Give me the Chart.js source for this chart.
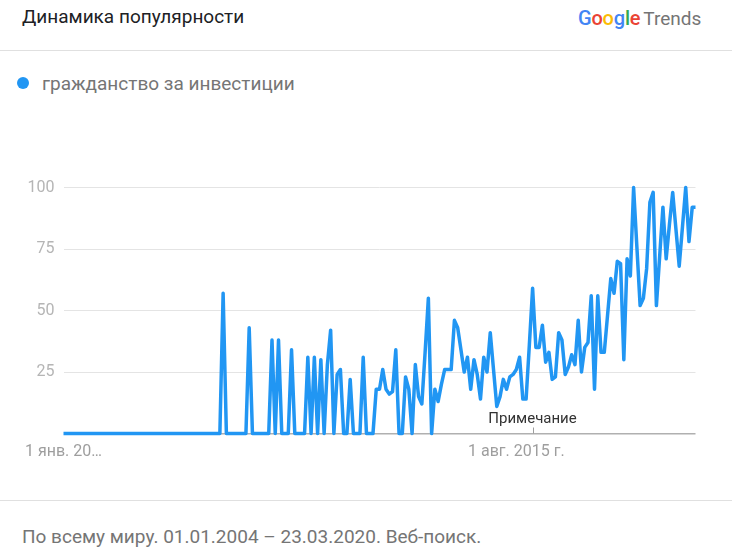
<!DOCTYPE html>
<html>
<head>
<meta charset="utf-8">
<script src="https://cdn.jsdelivr.net/npm/chart.js@4.4.0/dist/chart.umd.min.js"></script>
<style>
  html, body { margin: 0; padding: 0; background: #fff; }
  body { width: 732px; height: 557px; position: relative; overflow: hidden; font-family: Roboto, "Noto Sans", Arial, sans-serif; }
  .abs { position: absolute; white-space: nowrap; }
  #title { left: 22px; top: 7px; font-size: 19px; line-height: 20px; color: #202124; }
  #logo { left: 578px; top: 7px; font-size: 20px; line-height: 22px; }
  #logo .g { font-weight: 500; letter-spacing: -0.2px; }
  #logo .t { color: #757575; font-size: 19px; margin-left: 3px; }
  .hr { position: absolute; left: 0; width: 732px; height: 1px; background: #e0e0e0; }
  #legend { left: 17px; top: 74px; font-size: 19px; line-height: 20px; color: #757575; }
  #legend .dot { display: inline-block; width: 12px; height: 12px; border-radius: 50%; background: #2196F3; vertical-align: middle; margin-right: 13px; position: relative; top: -2px; }
  #footer { left: 22px; top: 527px; font-size: 19px; line-height: 20px; color: #757575; }
  #chart { position: absolute; left: 0; top: 0; }
</style>
</head>
<body>
<div id="title" class="abs">Динамика популярности</div>
<div id="logo" class="abs"><span class="g"><span style="color:#4285F4">G</span><span style="color:#EA4335">o</span><span style="color:#FBBC05">o</span><span style="color:#4285F4">g</span><span style="color:#34A853">l</span><span style="color:#EA4335">e</span></span><span class="t">Trends</span></div>
<div class="hr" style="top:50px"></div>
<div id="legend" class="abs"><span class="dot"></span>гражданство за инвестиции</div>
<div class="hr" style="top:500px"></div>
<div id="footer" class="abs">По всему миру. 01.01.2004 – 23.03.2020. Веб-поиск.</div>
<canvas id="chart" width="732" height="557"></canvas>
<script>
// Series name
const seriesName = 'гражданство за инвестиции';

// Categories: monthly points from 2004-01 to 2020-03
const startYear = 2004, endYear = 2020, endMonth = 3;
const categories = [];
for (let y = startYear; y <= endYear; y++) {
  for (let m = 1; m <= 12; m++) {
    if (y === endYear && m > endMonth) break;
    categories.push(y + '-' + String(m).padStart(2, '0'));
  }
}

// Values (0..100), one per month
const values = [
  // 2004
  0,0,0,0,0,0,0,0,0,0,0,0,
  // 2005
  0,0,0,0,0,0,0,0,0,0,0,0,
  // 2006
  0,0,0,0,0,0,0,0,0,0,0,0,
  // 2007
  0,0,0,0,0,0,0,0,0,0,0,0,
  // 2008
  0,57,0,0,0,0,0,0,0,43,0,0,
  // 2009
  0,0,0,0,38,0,38,0,0,0,34,0,
  // 2010
  0,0,0,31,0,31,0,30,0,28,42,0,
  // 2011
  24,26,0,0,22,0,0,0,31,0,0,0,
  // 2012
  18,18,26,18,16,17,34,0,0,23,18,0,
  // 2013
  28,15,12,33,55,0,18,13,20,26,26,26,
  // 2014
  46,43,34,25,31,18,30,24,14,31,25,41,
  // 2015
  26,11,15,22,18,23,24,26,31,14,14,36,
  // 2016
  59,35,35,44,29,33,22,23,41,38,24,27,
  // 2017
  32,28,46,25,35,37,56,18,56,33,33,48,
  // 2018
  63,57,70,69,30,71,64,100,76,52,55,67,
  // 2019
  94,98,52,72,92,71,85,98,83,68,84,100,
  // 2020
  78,92,92
];

// Axis ticks
const yTicks = [0, 25, 50, 75, 100];
const xTickIndices = [0, 139];
const xTickTexts = ['1 янв. 20…', '1 авг. 2015 г.'];
const noteIndex = 144;
const noteText = 'Примечание';

const FONT = 'Roboto, "Noto Sans", Arial, sans-serif';

const notePlugin = {
  id: 'note',
  afterDatasetsDraw(chart) {
    const ctx = chart.ctx;
    const xs = chart.scales.x;
    const area = chart.chartArea;
    const x = Math.round(xs.getPixelForValue(noteIndex)) + 0.5;
    ctx.save();
    ctx.strokeStyle = '#9e9e9e';
    ctx.lineWidth = 1;
    ctx.beginPath();
    ctx.moveTo(x, area.bottom - 6);
    ctx.lineTo(x, area.bottom);
    ctx.stroke();
    ctx.fillStyle = '#333333';
    ctx.font = '15px ' + FONT;
    ctx.textAlign = 'center';
    ctx.textBaseline = 'middle';
    ctx.fillText(noteText, x - 1, area.bottom - 14);
    ctx.restore();
  }
};

new Chart(document.getElementById('chart'), {
  type: 'line',
  data: {
    labels: categories,
    datasets: [{
      label: seriesName,
      data: values,
      borderColor: '#2196F3',
      backgroundColor: '#2196F3',
      borderWidth: 3.5,
      pointRadius: 0,
      pointHoverRadius: 0,
      tension: 0,
      borderJoinStyle: 'round',
      clip: false
    }]
  },
  options: {
    responsive: false,
    animation: false,
    events: [],
    layout: { padding: { top: 187.5, right: 36.5, left: 0, bottom: 0 } },
    plugins: { legend: { display: false }, tooltip: { enabled: false } },
    scales: {
      x: {
        type: 'category',
        offset: false,
        grid: { display: false, drawTicks: false },
        border: { display: false },
        afterFit: (s) => { s.height = 557 - 433.5; },
        ticks: {
          autoSkip: false,
          maxRotation: 0,
          minRotation: 0,
          padding: 9,
          color: '#9e9e9e',
          font: { family: FONT, size: 16 },
          callback: function (val, idx) {
            const k = xTickIndices.indexOf(idx);
            return k >= 0 ? xTickTexts[k] : null;
          }
        }
      },
      y: {
        min: 0,
        max: 100,
        afterFit: (s) => { s.width = 63.5; },
        afterBuildTicks: (s) => { s.ticks = yTicks.map(v => ({ value: v })); },
        border: { display: false },
        grid: {
          drawTicks: false,
          color: (c) => c.tick && c.tick.value === 0 ? '#b0b0b0' : '#e4e4e4',
          lineWidth: (c) => c.tick && c.tick.value === 0 ? 1.5 : 1
        },
        ticks: {
          padding: 9,
          color: '#b5b5b5',
          font: { family: FONT, size: 16 },
          callback: (v) => v === 0 ? '' : String(v)
        }
      }
    }
  },
  plugins: [notePlugin]
});
</script>
</body>
</html>
